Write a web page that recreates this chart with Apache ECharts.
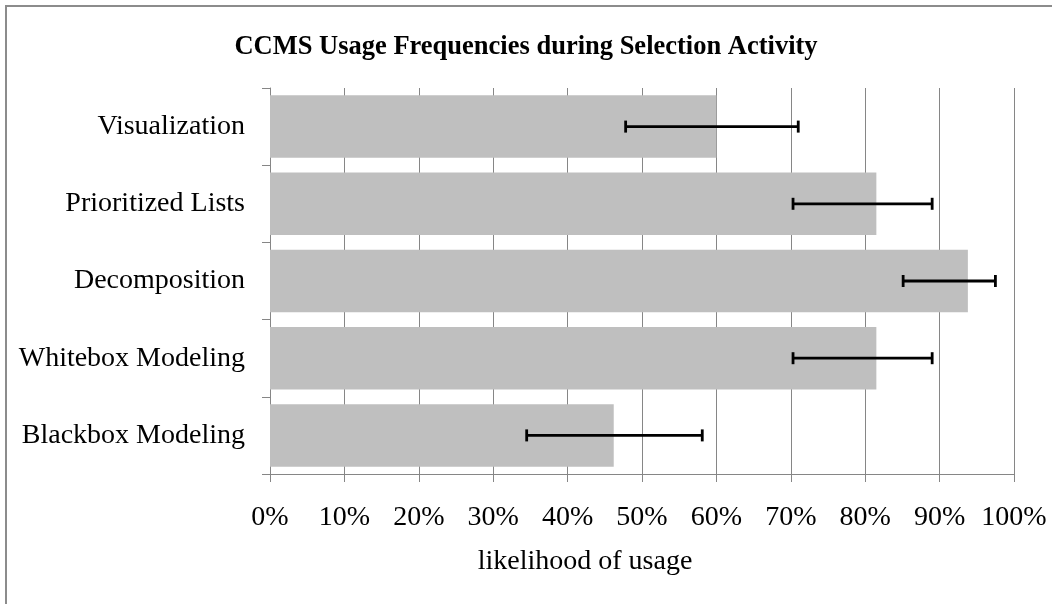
<!DOCTYPE html>
<html>
<head>
<meta charset="utf-8">
<script src="https://cdn.jsdelivr.net/npm/echarts@6/dist/echarts.min.js"></script>
<style>
html,body{margin:0;padding:0;background:#fff;}
#chart{width:1052px;height:604px;}
</style>
</head>
<body>
<div id="chart"></div>
<script>
var categories = ['Visualization', 'Prioritized Lists', 'Decomposition', 'Whitebox Modeling', 'Blackbox Modeling'];
var usage = [60.0, 81.5, 93.8, 81.5, 46.2];
var errLow = [47.8, 70.3, 85.1, 70.3, 34.5];
var errHigh = [71.0, 89.0, 97.5, 89.0, 58.1];
var chartTitle = 'CCMS Usage Frequencies during Selection Activity';
var xAxisTitle = 'likelihood of usage';

var FONT = '"Liberation Serif", "DejaVu Serif", serif';
var GRID = '#868686';

var errData = categories.map(function (c, i) { return [errLow[i], errHigh[i], i]; });

var chart = echarts.init(document.getElementById('chart'), null, {renderer: 'canvas'});
chart.setOption({
  animation: false,
  backgroundColor: '#ffffff',
  title: {
    text: chartTitle,
    left: 'center',
    top: 29,
    textStyle: {fontFamily: FONT, fontWeight: 'bold', fontSize: 26.5, color: '#000'}
  },
  graphic: [{
    type: 'rect',
    shape: {x: 6, y: 6, width: 1200, height: 800},
    style: {fill: 'none', stroke: '#8c8c8c', lineWidth: 2},
    silent: true
  }],
  grid: {left: 270, right: 38, top: 88, bottom: 130, containLabel: false},
  xAxis: {
    type: 'value',
    min: 0, max: 100, interval: 10,
    name: xAxisTitle,
    nameLocation: 'middle',
    nameGap: 74,
    nameTextStyle: {fontFamily: FONT, fontSize: 28, color: '#000', padding: [0, 114, 0, 0]},
    axisLine: {show: true, lineStyle: {color: GRID, width: 1}},
    axisTick: {show: true, length: 8, lineStyle: {color: GRID}},
    axisLabel: {formatter: '{value}%', fontFamily: FONT, fontSize: 28, color: '#000', margin: 30},
    splitLine: {show: true, lineStyle: {color: GRID, width: 1}}
  },
  yAxis: {
    type: 'category',
    data: categories,
    inverse: true,
    axisLine: {show: true, lineStyle: {color: GRID, width: 1}},
    axisTick: {show: true, length: 8, lineStyle: {color: GRID}},
    axisLabel: {fontFamily: FONT, fontSize: 28, color: '#000', margin: 25},
    splitLine: {show: false}
  },
  series: [{
    type: 'bar',
    data: usage,
    barWidth: '81%',
    itemStyle: {color: '#bfbfbf'},
    z: 2
  }, {
    type: 'custom',
    data: errData,
    encode: {x: [0, 1], y: 2},
    z: 3,
    renderItem: function (params, api) {
      var cat = api.value(2);
      var p1 = api.coord([api.value(0), cat]);
      var p2 = api.coord([api.value(1), cat]);
      var h = 6;
      var st = {stroke: '#000', lineWidth: 2.8};
      return {
        type: 'group',
        children: [
          {type: 'line', shape: {x1: p1[0], y1: p1[1], x2: p2[0], y2: p2[1]}, style: st},
          {type: 'line', shape: {x1: p1[0], y1: p1[1] - h, x2: p1[0], y2: p1[1] + h}, style: st},
          {type: 'line', shape: {x1: p2[0], y1: p2[1] - h, x2: p2[0], y2: p2[1] + h}, style: st}
        ]
      };
    }
  }]
});
</script>
</body>
</html>
